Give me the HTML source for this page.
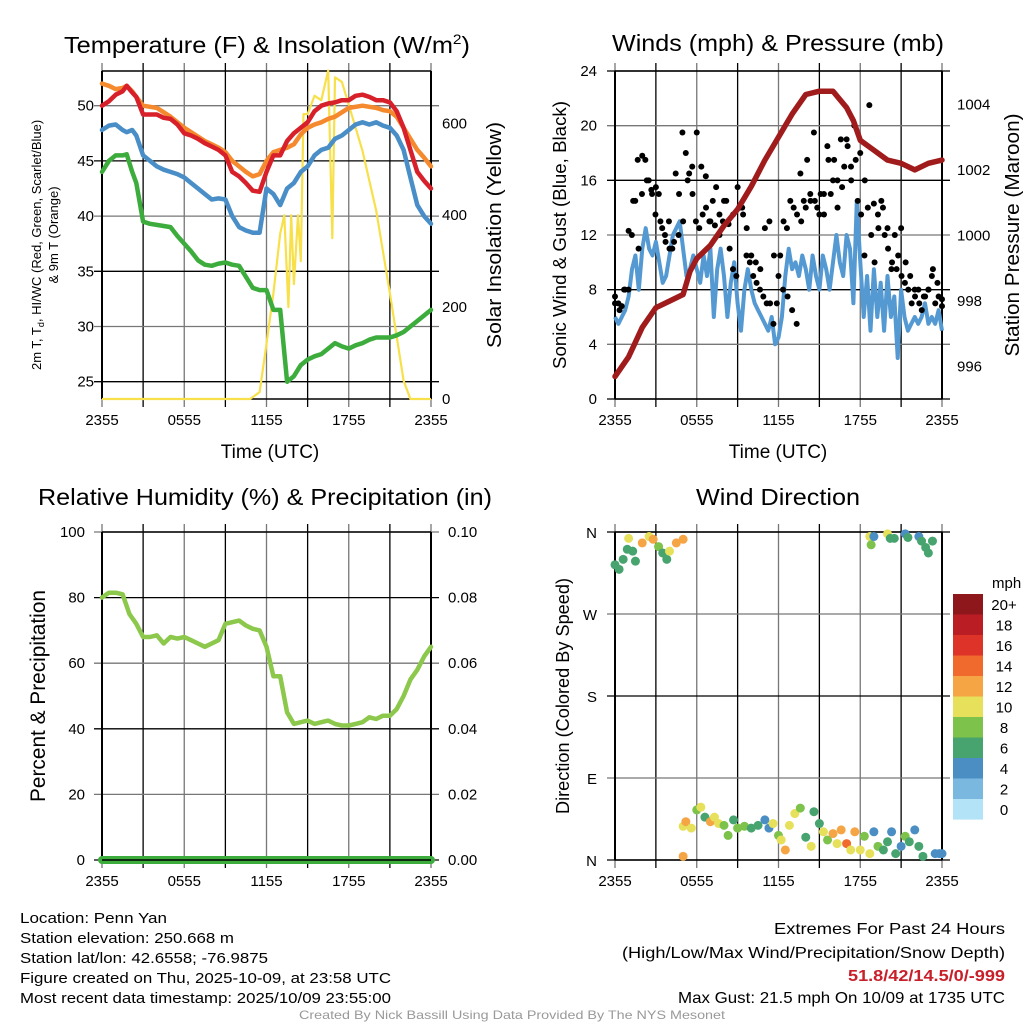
<!DOCTYPE html>
<html><head><meta charset="utf-8"><style>
html,body{margin:0;padding:0;background:#fff;}
svg{display:block;font-family:"Liberation Sans",Arial,sans-serif;}
</style></head><body>
<svg id="chart" width="1024" height="1024" viewBox="0 0 1024 1024" xmlns="http://www.w3.org/2000/svg">
<g id="layer"></g>
<text x="267" y="53" font-size="23" text-anchor="middle" textLength="406" lengthAdjust="spacingAndGlyphs">Temperature (F) &amp; Insolation (W/m<tspan dy="-9" font-size="14">2</tspan><tspan dy="9">)</tspan></text>
<text x="778" y="51" font-size="23" text-anchor="middle" textLength="332" lengthAdjust="spacingAndGlyphs">Winds (mph) &amp; Pressure (mb)</text>
<text x="265" y="505" font-size="23" text-anchor="middle" textLength="454" lengthAdjust="spacingAndGlyphs">Relative Humidity (%) &amp; Precipitation (in)</text>
<text x="778" y="505" font-size="23" text-anchor="middle" textLength="164" lengthAdjust="spacingAndGlyphs">Wind Direction</text>

<text x="20" y="923" font-size="15" textLength="147" lengthAdjust="spacingAndGlyphs">Location: Penn Yan</text>
<text x="20" y="943" font-size="15" textLength="214" lengthAdjust="spacingAndGlyphs">Station elevation: 250.668 m</text>
<text x="20" y="963" font-size="15" textLength="248" lengthAdjust="spacingAndGlyphs">Station lat/lon: 42.6558; -76.9875</text>
<text x="20" y="983" font-size="15" textLength="371" lengthAdjust="spacingAndGlyphs">Figure created on Thu, 2025-10-09, at 23:58 UTC</text>
<text x="20" y="1003" font-size="15" textLength="371" lengthAdjust="spacingAndGlyphs">Most recent data timestamp: 2025/10/09 23:55:00</text>
<text x="1005" y="934" font-size="16" text-anchor="end" textLength="231" lengthAdjust="spacingAndGlyphs">Extremes For Past 24 Hours</text>
<text x="1005" y="958" font-size="16" text-anchor="end" textLength="383" lengthAdjust="spacingAndGlyphs">(High/Low/Max Wind/Precipitation/Snow Depth)</text>
<text x="1005" y="981" font-size="16" font-weight="bold" fill="#c8202a" text-anchor="end" textLength="157" lengthAdjust="spacingAndGlyphs">51.8/42/14.5/0/-999</text>
<text x="1005" y="1003" font-size="16" text-anchor="end" textLength="327" lengthAdjust="spacingAndGlyphs">Max Gust: 21.5 mph On 10/09 at 1735 UTC</text>
<text x="512" y="1019" font-size="12" fill="#999" text-anchor="middle" textLength="426" lengthAdjust="spacingAndGlyphs">Created By Nick Bassill Using Data Provided By The NYS Mesonet</text>
</svg>
<script>
// ---- data ----
const tempTimes = [0,0.5,1,1.5,1.8,2.2,2.5,3,3.5,4,4.5,5,5.5,6,6.5,7,7.5,8,8.5,9,9.5,10,10.5,11,11.5,12,12.5,13,13.5,14,14.5,15,15.5,16,16.5,17,17.5,18,18.5,19,19.5,20,20.5,21,21.5,22,22.5,23,23.5,24];
const tempRed = [50,50.4,51,51.3,51.8,51.2,50.8,49.2,49.2,49.2,48.9,48.8,48.3,47.5,47.3,47,46.6,46.3,46,45.5,44,43.6,43,42.3,42.2,44,45.5,45.5,46.8,47.5,48,48.5,49.5,50,50.2,50.3,50.5,50.5,50.9,51,50.8,50.5,50.5,50.3,49.5,48,46,44,43.2,42.5];
const tempOrange = [52,51.8,51.5,51.6,51.8,51.3,50.8,50,49.9,49.8,49.4,49,48.5,48,47.6,47.2,46.8,46.5,46.2,45.8,45,44.5,44,43.6,43.8,45,45.8,46,46.2,46.5,47.4,48,48.3,48.5,48.8,49,49.4,49.8,49.9,50,49.9,49.8,49.6,49.5,49,48,47,46,45.3,44.5];
const tempBlue = [47.8,48.2,48.3,47.8,47.6,47.8,47.3,45.5,45,44.5,44.2,44,43.8,43.5,43,42.5,42,41.5,41.6,41.5,40,39,38.7,38.5,38.5,42.5,42,41,42.5,43,44,44.5,45.5,46,46.2,47,47.3,47.8,48.3,48.5,48.3,48.5,48.2,48,47.3,46,43.5,41,40,39.3];
const tempGreen = [44,45,45.5,45.5,45.6,44,43,39.5,39.3,39.2,39.1,39,38.2,37.5,36.8,36,35.6,35.5,35.7,35.8,35.6,35.5,34.5,33.5,33.3,33.3,31.5,31.5,25,25.5,26.5,27,27.3,27.5,28,28.5,28.2,28,28.3,28.5,28.8,29,29,29,29.2,29.5,30,30.5,31,31.5];
const solarTimes = [0,10.8,11.5,12,12.5,13,13.3,13.6,13.8,14,14.3,14.5,14.7,15,15.5,16,16.5,16.8,17,17.5,18,19,20,21,22,22.5,24];
const solarValues = [0,0,15,120,230,360,400,200,400,250,400,300,620,620,660,650,715,350,700,690,640,540,410,230,40,0,0];

const pressTimes = [0,1,2,3,4,5,5.5,6,7,8,9,10,11,12,13,14,15,16,17,17.5,18,19,20,21,22,23,24];
const pressValues = [995.7,996.3,997.2,997.8,998,998.2,998.9,999.3,999.7,1000.3,1000.8,1001.5,1002.3,1003,1003.7,1004.3,1004.4,1004.4,1003.9,1003.5,1002.9,1002.6,1002.3,1002.2,1002,1002.2,1002.3];
const windSpeed = [6,5.5,6,6.5,7.5, 9.5,10.5,8,11, 12.5,11,10.5,11.5, 10,8.5,9,10.5, 12,12.5,13,11, 9,9.5,10.5,9.5, 8.5,10.5,9,11, 6,9.5,11,9, 6,8.5,10,7, 5,8,9.5,8, 7,6.5,6,5.5, 5,6,4,4.5, 6,9,11,9.5, 10,9,10.5,9.5, 8,10.5,9,8, 10.5,9.5,8,10, 12,10,9,12, 11,7,14.5,10, 6,9,5,9.5, 6,8.5,5,9, 6,7.5,3,8, 6,5,5.5,6, 5.5,6,7,5.5, 6,5.5,6.5,5];
const gustValues = [7.5,7,6.8,8,8,12,14.5,11,15,17.5,16,15,13.5,15,12.5,11.5,13,11,16.5,15,19.5,18,16.5,15,13,12.5,13.5,14,13,14.5,15.5,12,13,14.5,11,9.5,9,14,13.5,10.5,10,9,8.5,8,7.5,7,7,5.5,7,10.5,13,12.5,14.5,14,13.5,16.5,14.5,17.5,14.5,19.5,14,15,13.5,18.5,15,17.5,16,19,17,18.5,17,20,14.5,13.5,10.5,14,12,10,13.5,14.5,12,11,9.5,12,10.5,9,8.5,8,7,7.5,8,6.5,7.5,8,9,7,7.5,6.8];
const gustValues2 = [7,6.5,8,12.3,14.5,17.5,17.8,16,15.3,15.5,13,12,11,11.5,12,13,16,17,19.5,17,16.3,13,12.7,13.5,14.5,12.8,13.5,15.5,14,12.5,10.5,10,9.5,12.5,13,10.5,9,8,7.5,6.5,5.5,13,14,15,14.5,13.5,15,17.5,16,14,15.5,19,16,17.5,18,16,21.5,14.3,12.5,14,12.5,10,9.5,12.5,10,9,8,7,7.5,8,9.5,8.5,7.3];

const rhTimes = [0,0.5,1,1.5,2,2.5,3,3.5,4,4.5,5,5.5,6,6.5,7,7.5,8,8.5,9,9.5,10,10.5,11,11.5,12,12.5,13,13.5,14,14.5,15,15.5,16,16.5,17,17.5,18,18.5,19,19.5,20,20.5,21,21.5,22,22.5,23,23.5,24];
const rhValues = [80,81.5,81.5,81,75,72,68,68,68.5,66,68,67.5,68,67,66,65,66,67,72,72.5,73,71.5,70.5,70,65,56,56,45,41.5,42,42.5,41.5,42,42.5,41.5,41,41,41.5,42,43.5,43,44,44,46,50,55,58,62,65];
const precipValues = [0,0,0,0,0,0,0,0,0,0,0,0,0,0,0,0,0,0,0,0,0,0,0,0,0];

const dirTimes = [0,0.3,0.6,0.9,1,1.3,1.5,2,2.5,2.8,3.2,3.5,3.8,4,4.5,5,18.7,18.8,19,20,20.2,20.5,21.3,21.5,22.3,22.5,22.8,23,23.3,
 5,5,5.2,5.6,6,6.3,6.6,7,7.3,7.6,8,8.3,8.7,9,9.5,10,10.5,11,11.3,11.6,12,12.2,12.5,12.8,13.2,13.6,14,14.4,14.6,15,15.3,15.6,16,16.3,16.6,17,17.3,17.6,18,18.3,18.7,19,19.3,19.7,20,20.3,20.6,21,21.3,21.6,22,22.3,22.6,23.5,23.8,24];
const dirDegrees = [324,319,330,341,353,339,328,348,355,352,344,337,330,339,348,352,355,346,355,358,353,353,358,354,355,350,343,337,350,
 4,37,42,35,55,58,47,42,47,40,38,27,44,35,37,35,38,44,35,40,27,22,11,38,51,57,25,15,53,40,31,22,29,18,33,18,11,31,11,26,7,31,15,11,20,31,7,15,26,20,33,15,4,7,7,7];
const dirSpeeds = [6,6,6,6,10,7,7,12,10,12,9,7,7,10,12,12,10,8,4,10,6,6,4,6,4,6,6,6,6,
 12,10,12,10,8,10,7,12,10,10,8,8,6,8,8,6,6,4,4,10,8,10,12,10,10,8,7,10,7,7,10,8,12,10,12,14,10,12,10,8,10,4,8,6,7,4,6,4,8,6,4,6,7,4,4,4];

const speedBins = ['0','2','4','6','8','10','12','14','16','18','20+'];
const speedColors = ['#b3e3f7','#7ab8e0','#4a8ec4','#48a46f','#7dc24a','#e6e05a','#f6a545','#f06a2e','#dd3328','#bb1d25','#8e171b'];

const timeTicks = ['2355','0555','1155','1755','2355'];
const tempTicks = [25,30,35,40,45,50];
const solarTicks = [0,200,400,600];
const windTicks = [0,4,8,12,16,20,24];
const pressTicks = [996,998,1000,1002,1004];
const rhTicks = [0,20,40,60,80,100];
const precipTicks = ['0.00','0.02','0.04','0.06','0.08','0.10'];
const dirTicks = ['N','E','S','W','N'];

// ---- helpers ----
const NS='http://www.w3.org/2000/svg';
const layer=document.getElementById('layer');
function mk(tag,attrs,parent){const e=document.createElementNS(NS,tag);for(const k in attrs)e.setAttribute(k,attrs[k]);(parent||layer).appendChild(e);return e;}
function lin(d0,d1,r0,r1){return v=>r0+(v-d0)/(d1-d0)*(r1-r0);}
function pathOf(ts,vs,xf,yf){return ts.map((t,i)=>(i?'L':'M')+xf(t).toFixed(1)+','+yf(vs[i]).toFixed(1)).join('');}

function frame(p){
  const g=mk('g',{});
  
  
  for(let i=0;i<=8;i++){const x=p.x0+(p.x1-p.x0)*i/8;
    const l=mk('line',{x1:x,x2:x,y1:p.y0-8,y2:p.y1+8,stroke:i%2?'#000':'#777','stroke-width':1.3},g);
    
    }
  p.hlines.forEach((y,i)=>{const l=mk('line',{x1:p.x0-8,x2:p.x1+8,y1:y,y2:y,stroke:i%2?'#777':'#000','stroke-width':1.3},g);
    
    });
  mk('line',{x1:p.x0,x2:p.x0,y1:p.y0,y2:p.y1,stroke:'#000','stroke-width':2},g);
  mk('line',{x1:p.x1,x2:p.x1,y1:p.y0,y2:p.y1,stroke:'#000','stroke-width':2},g);
  mk('line',{x1:p.x0,x2:p.x1,y1:p.y0,y2:p.y0,stroke:'#000','stroke-width':1.5},g);
  mk('line',{x1:p.x0,x2:p.x1,y1:p.y1,y2:p.y1,stroke:'#000','stroke-width':1.5},g);
  timeTicks.forEach((s,i)=>{const t=mk('text',{x:p.x0+(p.x1-p.x0)*i/4,y:p.y1+26,'font-size':15,'text-anchor':'middle'},g);t.textContent=s;
    
    });
}
function label(x,y,txt,size,anchor,name,rot,len){
  const t=mk('text',{x:x,y:y,'font-size':size,'text-anchor':anchor||'start'});
  if(rot)t.setAttribute('transform','rotate(-90 '+x+' '+y+')');
  if(len){t.setAttribute('textLength',len);t.setAttribute('lengthAdjust','spacingAndGlyphs');}
  t.textContent=txt;
  
  
  return t;
}

// ---- Panel 1: temperature ----
(function(){
  const X=lin(0,24,102,431), Y=lin(25,50,381.7,105.7), YS=lin(0,600,399,123.3);
  frame({name:'temperature',x0:102,x1:431,y0:71,y1:399,hlines:tempTicks.map(Y)});
  tempTicks.forEach(v=>label(94,Y(v)+5,String(v),15,'end','temp-tick-label'));
  solarTicks.forEach(v=>label(442,YS(v)+5,String(v),15,'start','solar-tick-label'));
  const sp=mk('path',{d:pathOf(solarTimes,solarValues,X,YS),fill:'none',stroke:'#f7e04a','stroke-width':2.2,'stroke-linejoin':'round'});
  
  
  [[tempGreen,'#3cac3c','dewpoint-line'],[tempBlue,'#4a8ec8','heat-index-wind-chill-line'],[tempOrange,'#f5892d','9m-temperature-line'],[tempRed,'#d7202a','2m-temperature-line']].forEach(s=>{
    const p=mk('path',{d:pathOf(tempTimes,s[0],X,Y),fill:'none',stroke:s[1],'stroke-width':4.5,'stroke-linejoin':'round','stroke-linecap':'round'});
    
    
  });
  label(270,458,'Time (UTC)',19,'middle','temp-x-axis-title');
  label(41,370,'2m T, T',13,'start','temp-y-axis-title',true).innerHTML='2m T, T<tspan dy="3" font-size="9">d</tspan><tspan dy="-3">, HI/WC (Red, Green, Scarlet/Blue)</tspan>';
  label(58,235,'& 9m T (Orange)',13,'middle','temp-y-axis-title-2',true);
  label(501,235,'Solar Insolation (Yellow)',20,'middle','solar-y-axis-title',true,226);
})();

// ---- Panel 2: winds ----
(function(){
  const X=lin(0,24,615,942), Y=lin(0,24,399,71), YP=lin(996,1004,366.7,104.3);
  frame({name:'winds',x0:615,x1:942,y0:71,y1:399,hlines:windTicks.map(Y)});
  windTicks.forEach(v=>label(597,Y(v)+5,String(v),15,'end','wind-tick-label'));
  pressTicks.forEach(v=>label(957,YP(v)+5,String(v),15,'start','pressure-tick-label'));
  const wt=windSpeed.map((v,i)=>i*24/(windSpeed.length-1));
  const wp=mk('path',{d:pathOf(wt,windSpeed,X,Y),fill:'none',stroke:'#5499d2','stroke-width':4,'stroke-linejoin':'round'});
  
  
  [gustValues,gustValues2].forEach(arr=>arr.forEach((v,i)=>{const c=mk('circle',{cx:X(i*24/(arr.length-1)),cy:Y(v),r:3,fill:'#000'});
    
    }));
  const pp=mk('path',{d:pathOf(pressTimes,pressValues,X,YP),fill:'none',stroke:'#a01c1c','stroke-width':5.5,'stroke-linejoin':'round','stroke-linecap':'round'});
  
  
  label(778,458,'Time (UTC)',19,'middle','winds-x-axis-title');
  label(566,235,'Sonic Wind & Gust (Blue, Black)',18,'middle','wind-y-axis-title',true,268);
  label(1019,235,'Station Pressure (Maroon)',20,'middle','pressure-y-axis-title',true,243);
})();

// ---- Panel 3: humidity ----
(function(){
  const X=lin(0,24,102,431), Y=lin(0,100,860,532);
  frame({name:'humidity',x0:102,x1:431,y0:532,y1:860,hlines:rhTicks.map(Y)});
  rhTicks.forEach(v=>label(85,Y(v)+5,String(v),15,'end','rh-tick-label'));
  precipTicks.forEach((v,i)=>label(448,Y(i*20)+5,v,15,'start','precip-tick-label'));
  const rp=mk('path',{d:pathOf(rhTimes,rhValues,X,Y),fill:'none',stroke:'#8cc84b','stroke-width':4.5,'stroke-linejoin':'round','stroke-linecap':'round'});
  
  
  const Yp=lin(0,0.1,860,532);
  const pt=precipValues.map((v,i)=>i*24/(precipValues.length-1));
  const pq=mk('path',{d:pathOf(pt,precipValues,X,Yp),fill:'none',stroke:'#3cac3c','stroke-width':8,'stroke-linecap':'round'});
  
  
  mk('line',{x1:102,x2:431,y1:860,y2:860,stroke:'#000','stroke-width':1.5});
  label(45,696,'Percent & Precipitation',21,'middle','humidity-y-axis-title',true,212);
})();

// ---- Panel 4: wind direction ----
(function(){
  const X=lin(0,24,615,942), Y=lin(0,360,860,532);
  frame({name:'wind-direction',x0:615,x1:942,y0:532,y1:860,hlines:[0,90,180,270,360].map(Y)});
  dirTicks.forEach((s,i)=>label(597,Y(i*90)+6,s,15,'end','direction-tick-label'));
  dirTimes.forEach((t,i)=>{
    const b=Math.min(10,Math.floor(dirSpeeds[i]/2));
    const c=mk('circle',{cx:X(t),cy:Y(dirDegrees[i]),r:4.5,fill:speedColors[b]});
    
    
  });
  label(569,696,'Direction (Colored By Speed)',18,'middle','direction-y-axis-title',true,236);
  const lg=mk('g',{});
  
  
  const t=mk('text',{x:992,y:588,'font-size':15},lg);t.textContent='mph';
  speedBins.forEach((s,i)=>{
    const k=10-i, y=594+i*20.5;
    const r=mk('rect',{x:953,y:y,width:30,height:20.6,fill:speedColors[k]},lg);
    
    
    const tx=mk('text',{x:1004,y:y+16,'font-size':15,'text-anchor':'middle'},lg);tx.textContent=speedBins[k];
    
    
  });
})();
</script>
</body></html>
